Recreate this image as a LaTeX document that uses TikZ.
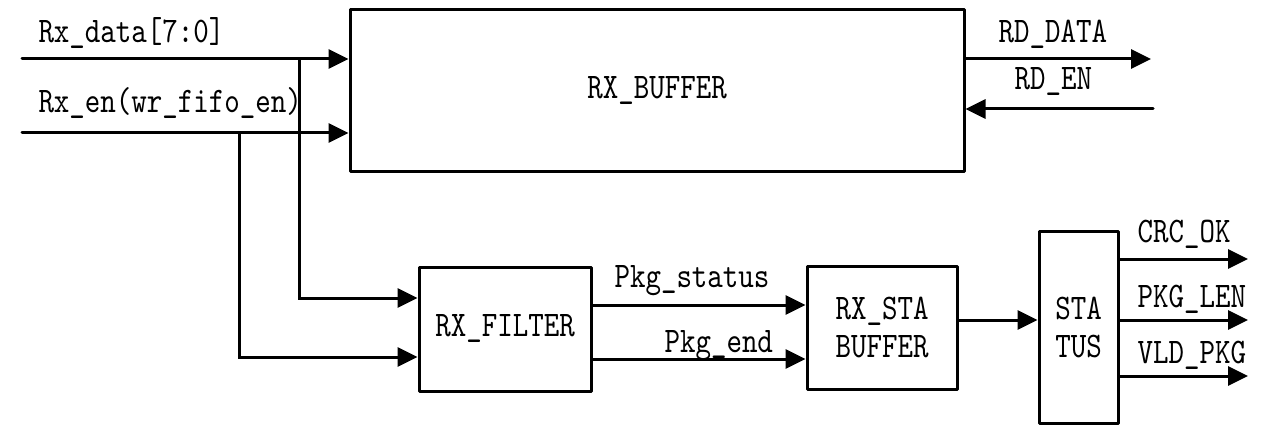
\documentclass[tikz,border=0pt]{standalone}
\usepackage{fontspec}
\setmonofont[FakeStretch=0.82]{lmmono10-regular.otf}
\usetikzlibrary{arrows.meta,positioning}

\begin{document}
\begin{tikzpicture}[x=1pt,y=-1pt,->,>={Triangle[length=20pt,width=19pt]},
  line width=3pt,line cap=round,
  main block/.style={draw,rectangle,line join=round,inner sep=0pt,align=center,
    font=\ttfamily\fontsize{36}{38}\selectfont},
  sig text/.style={inner sep=0pt,anchor=base west,font=\ttfamily\fontsize{36}{38}\selectfont}]

  \useasboundingbox (0,0) rectangle (1287,441);

  \node[main block,minimum width=614,minimum height=161] (buffer) at (657,90.5) {RX\_BUFFER};
  \node[main block,minimum width=172,minimum height=124] (filter) at (505,329) {RX\_FILTER};
  \node[main block,minimum width=150,minimum height=123] (stabuf) at (882,327.5) {RX\_STA\\BUFFER};
  \node[main block,minimum width=79,minimum height=192] (status) at (1078.5,327) {STA\\TUS};

  % free ends and tap points
  \coordinate (rxdata) at (22,59);
  \coordinate (rxen) at (22,133);
  \coordinate (tap data) at (299,59);
  \coordinate (tap en) at (239,133);
  \coordinate (rddata) at (1151,59);
  \coordinate (rden) at (1153,109);
  \coordinate (flt a) at (0,298);
  \coordinate (flt b) at (0,357);
  \coordinate (pkg a) at (0,305);
  \coordinate (pkg b) at (0,359);
  \coordinate (sta) at (0,320);
  \coordinate (crc) at (1248,259);
  \coordinate (len) at (1248,320);
  \coordinate (vld) at (1248,376);

  \draw (rxdata) -- (buffer.west |- rxdata);
  \draw (rxen) -- (buffer.west |- rxen);
  \draw (tap data) |- (filter.west |- flt a);
  \draw (tap en) |- (filter.west |- flt b);
  \draw (buffer.east |- rddata) -- (rddata);
  \draw (rden) -- (buffer.east |- rden);
  \draw (filter.east |- pkg a) -- (stabuf.west |- pkg a);
  \draw (filter.east |- pkg b) -- (stabuf.west |- pkg b);
  \draw (stabuf.east |- sta) -- (status.west |- sta);
  \draw (status.east |- crc) -- (crc);
  \draw (status.east |- len) -- (len);
  \draw (status.east |- vld) -- (vld);

  \node[sig text] (t rxdata) at (37,43) {Rx\_data[7:0]};
  \node[sig text] (t rxen) at (37,113) {Rx\_en(wr\_fifo\_en)};
  \node[sig text] (t rddata) at (997,43) {RD\_DATA};
  \node[sig text] (t rden) at (1013,90) {RD\_EN};
  \node[sig text] (t pkga) at (613,287) {Pkg\_status};
  \node[sig text] (t pkgb) at (663,352) {Pkg\_end};
  \node[sig text] (t crc) at (1136,242) {CRC\_OK};
  \node[sig text] (t len) at (1136,307) {PKG\_LEN};
  \node[sig text] (t vld) at (1136,363) {VLD\_PKG};

\end{tikzpicture}
\end{document}
